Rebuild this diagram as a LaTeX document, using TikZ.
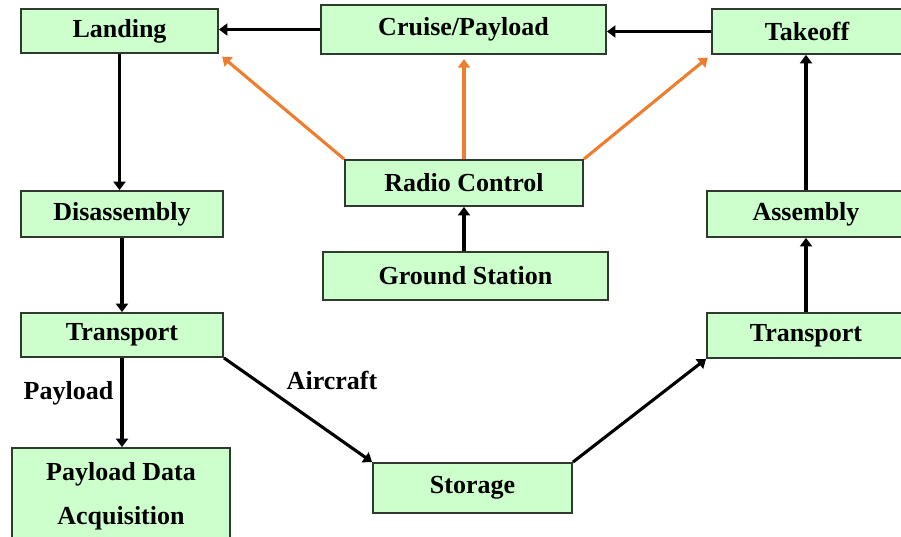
\documentclass[tikz,border=0pt]{standalone}
\usepackage{fontspec}
\setmainfont{Liberation Serif}
\usepackage{tikz}
\usetikzlibrary{positioning,arrows.meta,calc}
\definecolor{boxgreen}{HTML}{CCFFCC}
\definecolor{boxedge}{HTML}{2F3A2F}
\definecolor{radioorange}{HTML}{EE7D2E}

\begin{document}
\begin{tikzpicture}[x=0.025cm, y=-0.025cm,
    box/.style={draw=boxedge, line width=1.3pt, fill=boxgreen, inner sep=0pt,
      font=\fontsize{18.5}{31}\selectfont\bfseries, align=center},
    flow/.style={-{Triangle[length=6pt,width=8.5pt]}, line width=2.2pt, black},
    radio/.style={-{Triangle[length=6pt,width=8.5pt]}, line width=2.2pt, radioorange, shorten >=3pt},
    tag/.style={font=\fontsize{18.5}{22}\selectfont\bfseries, inner sep=0pt}]
    \useasboundingbox (0,0) rectangle (901,537);
    % top row
    \node[box, minimum width=4.925cm, minimum height=1.1cm] (landing) at (119.5,31) {Landing};
    \node[box, minimum width=7.125cm, minimum height=1.225cm] (cruise) at (463.5,29.5) {Cruise/Payload};
    \node[box, minimum width=4.75cm, minimum height=1.125cm] (takeoff) at (807,31.5) {Takeoff};
    % ground link
    \node[box, minimum width=5.95cm, minimum height=1.15cm] (radio) at (464,183) {Radio Control};
    \node[box, minimum width=7.125cm, minimum height=1.2cm] (ground) at (465.5,276) {Ground Station};
    % left column
    \node[box, minimum width=5.05cm, minimum height=1.15cm] (disassembly) at (122,214) {Disassembly};
    \node[box, minimum width=5.05cm, minimum height=1.1cm] (transportL) at (122,335) {Transport};
    \node[box, minimum width=5.45cm, minimum height=2.425cm] (pda) at (121,496.5) {Payload Data\\ Acquisition};
    % right column
    \node[box, minimum width=4.95cm, minimum height=1.15cm] (assembly) at (806,214) {Assembly};
    \node[box, minimum width=4.95cm, minimum height=1.125cm] (transportR) at (806,335.5) {Transport};
    \node[box, minimum width=4.975cm, minimum height=1.25cm] (storage) at (472.5,488) {Storage};
    % labels
    \node[tag] (payloadtag) at (68.5,393) {Payload};
    \node[tag] (aircrafttag) at (332,380) {Aircraft};
    % arrows
    \draw[flow] (cruise.west) -- (landing.east |- cruise.west);
    \draw[flow] (takeoff.west) -- (cruise.east |- takeoff.west);
    \draw[radio] (radio.north west) -- (landing.south east);
    \draw[radio] (radio.north) -- (radio.north |- cruise.south);
    \draw[radio] (radio.north east) -- (takeoff.south west);
    \draw[flow] (ground.north -| radio.north) -- (radio.south);
    \draw[flow] (landing.south) -- (landing.south |- disassembly.north);
    \draw[flow] (disassembly.south) -- (transportL.north);
    \draw[flow] (transportL.south) -- (transportL.south |- pda.north);
    \draw[flow] (transportL.south east) -- (storage.north west);
    \draw[flow] (storage.north east) -- (transportR.south west);
    \draw[flow] (transportR.north) -- (assembly.south);
    \draw[flow] (assembly.north) -- (assembly.north |- takeoff.south);
\end{tikzpicture}
\end{document}
